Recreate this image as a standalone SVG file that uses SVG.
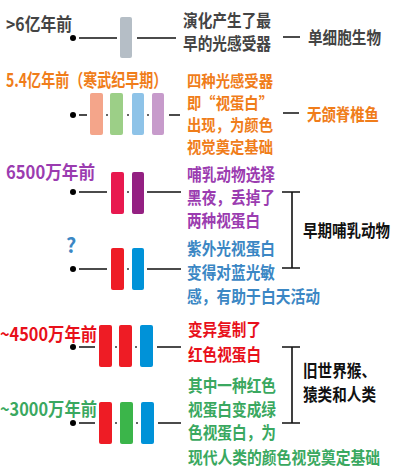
<svg xmlns="http://www.w3.org/2000/svg" width="413" height="468" viewBox="0 0 413 468">
<style>
text{font-family:"Noto Sans CJK SC","Noto Sans",sans-serif;font-weight:bold;font-size:17px}
.lab{font-size:18px}
.sm{font-size:16px}
.q{font-size:20px}
.gray{fill:#444}
.org{fill:#f07d1a}
.pur{fill:#9b3cb0}
.blu{fill:#3b87c4}
.red{fill:#e8101a}
.grn{fill:#3aa860}
.blk{fill:#111}
.ln{stroke:#111;stroke-width:1.6;fill:none}
.dot{fill:#000}
.sd{fill:#333}
rect{rx:2}
</style>
<g id="connectors">
<path class="ln" d="M79 38H117M137 38H176M283 37H300"/>
<path class="ln" d="M79 115H87M169 115H180M283 113H299"/>
<path class="ln" d="M79 192H107M147 192H181M79 269H107M147 269H181"/>
<path class="ln" d="M282 192H300M282 268H300M292 192V268"/>
<path class="ln" d="M79 347H95M157 347H181M79 423H95M158 423H181"/>
<path class="ln" d="M282 347H300M282 423H300M292 347V423"/>
</g>
<g id="n1">
<text class="lab gray" x="6" y="31" textLength="66" lengthAdjust="spacingAndGlyphs">&gt;6亿年前</text>
<circle class="dot" cx="73" cy="38" r="3"/>
<rect x="120" y="17" width="12" height="41" fill="#b5bec6"/>
<text class="gray" x="183" y="27" textLength="88" lengthAdjust="spacingAndGlyphs">演化产生了最</text>
<text class="gray" x="183" y="50" textLength="88" lengthAdjust="spacingAndGlyphs">早的光感受器</text>
<text class="gray" x="308" y="44" textLength="73" lengthAdjust="spacingAndGlyphs">单细胞生物</text>
</g>
<g id="n2">
<text class="lab org" transform="translate(6 87) scale(0.78 1)" x="0" y="0">5.4亿年前（寒武纪早期）</text>
<circle class="dot" cx="73" cy="115" r="3"/>
<rect x="90" y="93" width="13" height="42" fill="#f4a58a"/>
<rect x="110" y="93" width="13" height="42" fill="#9ccf87"/>
<rect x="132" y="93" width="12" height="42" fill="#8ec3e8"/>
<rect x="152" y="93" width="12" height="42" fill="#c79bcb"/>
<circle class="sd" cx="107" cy="115" r="1"/><circle class="sd" cx="128" cy="115" r="1"/><circle class="sd" cx="148" cy="115" r="1"/>
<text class="sm org" x="187" y="87" textLength="86" lengthAdjust="spacingAndGlyphs">四种光感受器</text>
<text class="sm org" x="187" y="109" textLength="86" lengthAdjust="spacingAndGlyphs">即“视蛋白”</text>
<text class="sm org" x="187" y="131" textLength="86" lengthAdjust="spacingAndGlyphs">出现，为颜色</text>
<text class="sm org" x="187" y="153" textLength="86" lengthAdjust="spacingAndGlyphs">视觉奠定基础</text>
<text class="org" x="307" y="121" textLength="72" lengthAdjust="spacingAndGlyphs">无颌脊椎鱼</text>
</g>
<g id="n3">
<text class="lab pur" x="6" y="179" textLength="89" lengthAdjust="spacingAndGlyphs">6500万年前</text>
<circle class="dot" cx="73" cy="192" r="3"/>
<rect x="111" y="172" width="13" height="42" fill="#e8194f"/>
<rect x="132" y="172" width="12" height="42" fill="#942082"/>
<circle class="sd" cx="128" cy="192" r="1"/>
<text class="pur" x="187" y="181" textLength="88" lengthAdjust="spacingAndGlyphs">哺乳动物选择</text>
<text class="pur" x="187" y="204" textLength="88" lengthAdjust="spacingAndGlyphs">黑夜，丢掉了</text>
<text class="pur" x="187" y="227" textLength="73" lengthAdjust="spacingAndGlyphs">两种视蛋白</text>
</g>
<g id="n4">
<text class="q blu" x="66" y="253">?</text>
<circle class="dot" cx="73" cy="269" r="3"/>
<rect x="111" y="248" width="13" height="42" fill="#ee1c25"/>
<rect x="132" y="248" width="12" height="42" fill="#0092d8"/>
<circle class="sd" cx="128" cy="269" r="1"/>
<text class="blu" x="187" y="255" textLength="88" lengthAdjust="spacingAndGlyphs">紫外光视蛋白</text>
<text class="blu" x="187" y="279" textLength="88" lengthAdjust="spacingAndGlyphs">变得对蓝光敏</text>
<text class="blu" x="187" y="303" textLength="133" lengthAdjust="spacingAndGlyphs">感，有助于白天活动</text>
</g>
<g id="g1">
<text class="blk" x="303" y="237" textLength="87" lengthAdjust="spacingAndGlyphs">早期哺乳动物</text>
</g>
<g id="n5">
<text class="lab red" x="0" y="341" textLength="97" lengthAdjust="spacingAndGlyphs">~4500万年前</text>
<circle class="dot" cx="73" cy="347" r="3"/>
<rect x="99" y="325" width="13" height="42" fill="#ee1c25"/>
<rect x="119" y="325" width="13" height="42" fill="#ee1c25"/>
<rect x="140" y="325" width="13" height="42" fill="#0092d8"/>
<circle class="sd" cx="116" cy="347" r="1"/><circle class="sd" cx="136" cy="347" r="1"/>
<text class="red" x="188" y="336" textLength="73" lengthAdjust="spacingAndGlyphs">变异复制了</text>
<text class="red" x="188" y="361" textLength="73" lengthAdjust="spacingAndGlyphs">红色视蛋白</text>
</g>
<g id="n6">
<text class="lab grn" x="0" y="416" textLength="97" lengthAdjust="spacingAndGlyphs">~3000万年前</text>
<circle class="dot" cx="73" cy="423" r="3"/>
<rect x="99" y="402" width="13" height="42" fill="#ee1c25"/>
<rect x="120" y="402" width="13" height="42" fill="#3bb54a"/>
<rect x="141" y="402" width="13" height="42" fill="#0092d8"/>
<circle class="sd" cx="116" cy="423" r="1"/><circle class="sd" cx="137" cy="423" r="1"/>
<text class="grn" x="188" y="392" textLength="88" lengthAdjust="spacingAndGlyphs">其中一种红色</text>
<text class="grn" x="188" y="416" textLength="88" lengthAdjust="spacingAndGlyphs">视蛋白变成绿</text>
<text class="grn" x="188" y="439" textLength="88" lengthAdjust="spacingAndGlyphs">色视蛋白，为</text>
<text class="grn" x="188" y="464" textLength="192" lengthAdjust="spacingAndGlyphs">现代人类的颜色视觉奠定基础</text>
</g>
<g id="g2">
<text class="blk" x="303" y="377" textLength="73" lengthAdjust="spacingAndGlyphs">旧世界猴、</text>
<text class="blk" x="303" y="401" textLength="73" lengthAdjust="spacingAndGlyphs">猿类和人类</text>
</g>
</svg>
